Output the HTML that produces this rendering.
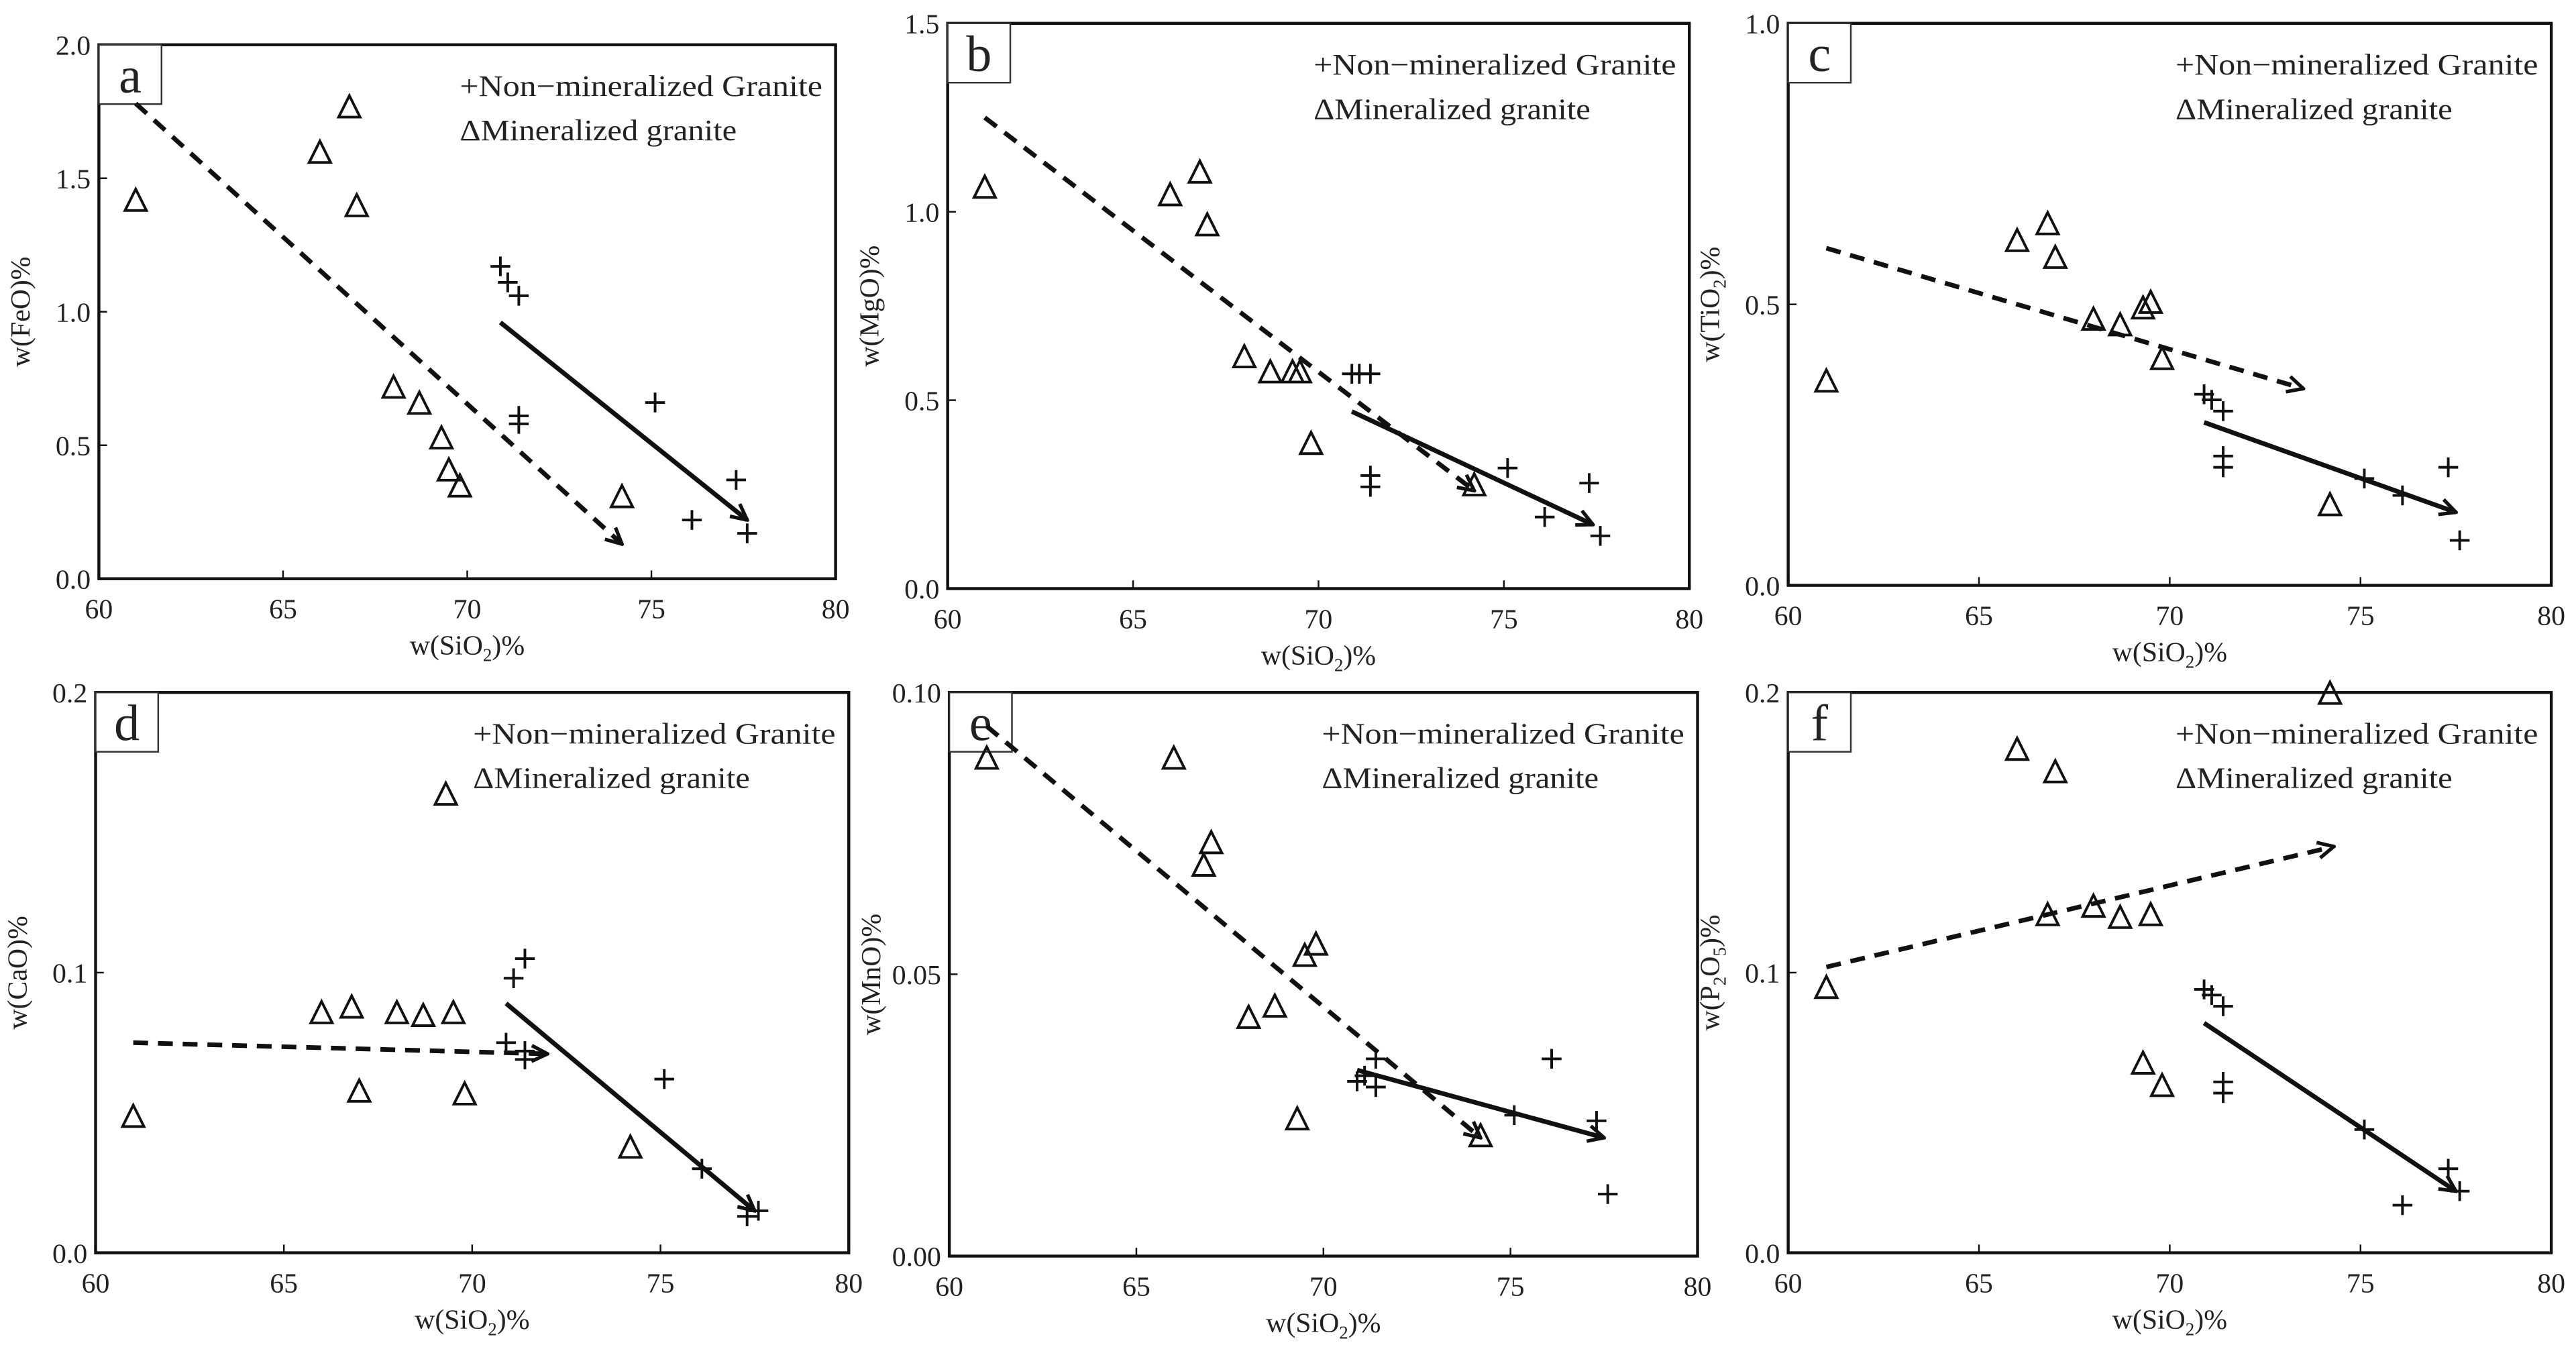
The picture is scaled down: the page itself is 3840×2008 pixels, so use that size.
<!DOCTYPE html>
<html><head><meta charset="utf-8"><style>
html,body{margin:0;padding:0;background:#fff;}
svg{display:block;font-family:"Liberation Serif",serif;}
text{font-family:"Liberation Serif",serif;fill:#222;}
</style></head><body>
<svg id="chart" width="3840" height="2008" viewBox="0 0 1563 817" xmlns="http://www.w3.org/2000/svg">
<defs>
<marker id="ah" viewBox="0 0 10 10" refX="9" refY="5" markerWidth="12" markerHeight="12" orient="auto" markerUnits="userSpaceOnUse">
<path d="M1,1 L9,5 L1,9" fill="none" stroke="#111" stroke-width="1.8"/></marker>
</defs>
</svg>
<script>
const xTicks=[60,65,70,75,80];
const panelLetters=['a','b','c','d','e','f'];
const yTitles=['FeO','MgO','TiO','CaO','MnO','P'];
const yMaxes=[2.0,1.5,1.0,0.2,0.10,0.2];
const yTickLabelsA=['0.0','0.5','1.0','1.5','2.0'];
const yTickLabelsB=['0.0','0.5','1.0','1.5'];
const yTickLabelsC=['0.0','0.5','1.0'];
const yTickLabelsD=['0.0','0.1','0.2'];
const yTickLabelsE=['0.00','0.05','0.10'];
const yTickLabelsF=['0.0','0.1','0.2'];
const triX=[61,66,66.8,67,68,68.7,69.3,69.5,69.8,74.2];
const triFeO=[1.41,1.59,1.76,1.39,0.71,0.65,0.52,0.40,0.34,0.30];
const triMgO=[1.06,1.04,1.10,0.96,0.61,0.57,0.57,0.57,0.38,0.27];
const triTiO2=[0.36,0.61,0.64,0.58,0.47,0.46,0.49,0.50,0.40,0.14];
const triCaO=[0.048,0.085,0.087,0.057,0.085,0.084,0.163,0.085,0.056,0.037];
const triMnO=[0.088,0.088,0.069,0.073,0.042,0.044,0.024,0.053,0.055,0.021];
const triP2O5=[0.094,0.179,0.120,0.171,0.123,0.119,0.067,0.120,0.059,0.199];
const plusX=[70.9,71.1,71.4,71.4,71.4,75.1,77.3,76.1,77.6];
const plusFeO=[1.17,1.11,1.06,0.61,0.58,0.66,0.37,0.22,0.17];
const plusMgO=[0.57,0.57,0.57,0.30,0.27,0.32,0.28,0.19,0.14];
const plusTiO2=[0.34,0.33,0.31,0.23,0.21,0.19,0.21,0.16,0.08];
const plusCaO=[0.075,0.098,0.105,0.072,0.069,0.062,0.013,0.030,0.015];
const plusMnO=[0.031,0.032,0.035,0.030,0.030,0.025,0.024,0.035,0.011];
const plusP2O5=[0.094,0.092,0.088,0.061,0.057,0.044,0.030,0.017,0.022];
const dashedTrends=[[61,1.78,74.2,0.13],[61,1.25,74.2,0.26],[61,0.60,73.5,0.35],[61,0.075,72,0.071],[61,0.094,74.2,0.021],[61,0.102,74.3,0.145]];
const solidTrends=[[70.9,0.96,77.6,0.22],[70.9,0.47,77.4,0.17],[70.9,0.29,77.5,0.13],[70.9,0.089,77.5,0.015],[70.9,0.033,77.5,0.021],[70.9,0.082,77.5,0.022]];

const boxes=[[60,27,507,351],[575,14,1025,357],[1085,14,1548,355],[58,420,515,760],[576,420,1030,762],[1085,420,1548,760]];
const tickSets=[yTickLabelsA,yTickLabelsB,yTickLabelsC,yTickLabelsD,yTickLabelsE,yTickLabelsF];
const triSets=[triFeO,triMgO,triTiO2,triCaO,triMnO,triP2O5];
const plusSets=[plusFeO,plusMgO,plusTiO2,plusCaO,plusMnO,plusP2O5];
const NS='http://www.w3.org/2000/svg';
const svg=document.getElementById('chart');
function mk(tag,attrs,parent){const e=document.createElementNS(NS,tag);for(const k in attrs)e.setAttribute(k,attrs[k]);(parent||svg).appendChild(e);return e;}

for(let p=0;p<6;p++){
  const [L,T,R,B]=boxes[p];
  const ymax=yMaxes[p];
  const sx=v=>L+(v-60)/20*(R-L);
  const sy=v=>B-v/ymax*(B-T);
  const g=mk('g',{});
  
  
  const frame=mk('rect',{x:L,y:T,width:R-L,height:B-T,fill:'none',stroke:'#111','stroke-width':1.8},g);
  
  
  xTicks.forEach(v=>{
    const x=sx(v);
    const tk=mk('line',{x1:x,y1:B,x2:x,y2:B-5,stroke:'#111','stroke-width':1},g);
    
    
    const t=mk('text',{x:x,y:B+24,'text-anchor':'middle','font-size':17},g);
    t.textContent=v;
    
    
  });
  const labs=tickSets[p];
  labs.forEach((s,i)=>{
    const v=parseFloat(s);const y=sy(v);
    const tk=mk('line',{x1:L,y1:y,x2:L+5,y2:y,stroke:'#111','stroke-width':1},g);
    
    
    const t=mk('text',{x:L-5,y:y+6,'text-anchor':'end','font-size':17},g);
    t.textContent=s;
    
    
  });
  const xt=mk('text',{x:(L+R)/2,y:B+46,'text-anchor':'middle','font-size':17},g);
  xt.innerHTML='w(SiO<tspan font-size="11" dy="4">2</tspan><tspan dy="-4">)%</tspan>';
  
  
  const cy=(T+B)/2, tx=L-42;
  const yt=mk('text',{x:tx,y:cy,'text-anchor':'middle','font-size':17,transform:`rotate(-90 ${tx} ${cy})`},g);
  const nm=yTitles[p];
  if(nm==='TiO') yt.innerHTML='w(TiO<tspan font-size="11" dy="4">2</tspan><tspan dy="-4">)%</tspan>';
  else if(nm==='P') yt.innerHTML='w(P<tspan font-size="11" dy="4">2</tspan><tspan dy="-4">O</tspan><tspan font-size="11" dy="4">5</tspan><tspan dy="-4">)%</tspan>';
  else yt.textContent='w('+nm+')%';
  
  
  const lb=mk('rect',{x:L,y:T,width:38,height:36,fill:'#fff',stroke:'#333','stroke-width':1},g);
  
  
  const lt=mk('text',{x:L+19,y:T+29,'text-anchor':'middle','font-size':31},g);
  lt.textContent=panelLetters[p];
  
  
  const lx=R-228;
  const l1=mk('text',{x:lx,y:T+31,'font-size':18,textLength:220,lengthAdjust:'spacingAndGlyphs'},g);
  l1.textContent='+Non\u2212mineralized Granite';
  
  
  const l2=mk('text',{x:lx,y:T+58,'font-size':18,textLength:168,lengthAdjust:'spacingAndGlyphs'},g);
  l2.textContent='\u0394Mineralized granite';
  
  
  const d=dashedTrends[p];
  const dl=mk('line',{x1:sx(d[0]),y1:sy(d[1]),x2:sx(d[2]),y2:sy(d[3]),stroke:'#111','stroke-width':2.8,'stroke-dasharray':'9,6','marker-end':'url(#ah)'},g);
  
  
  const s=solidTrends[p];
  const sl=mk('line',{x1:sx(s[0]),y1:sy(s[1]),x2:sx(s[2]),y2:sy(s[3]),stroke:'#111','stroke-width':2.8,'marker-end':'url(#ah)'},g);
  
  
  triX.forEach((xv,i)=>{
    const x=sx(xv),y=sy(triSets[p][i]);
    const tr=mk('path',{d:`M${x},${y-8} L${x-6.5},${y+5} L${x+6.5},${y+5} Z`,fill:'none',stroke:'#111','stroke-width':1.6},g);
    
    
  });
  plusX.forEach((xv,i)=>{
    const x=sx(xv),y=sy(plusSets[p][i]);
    const pl=mk('path',{d:`M${x-6},${y} H${x+6} M${x},${y-6} V${y+6}`,fill:'none',stroke:'#111','stroke-width':1.6},g);
    
    
  });
}
</script>
</body></html>
